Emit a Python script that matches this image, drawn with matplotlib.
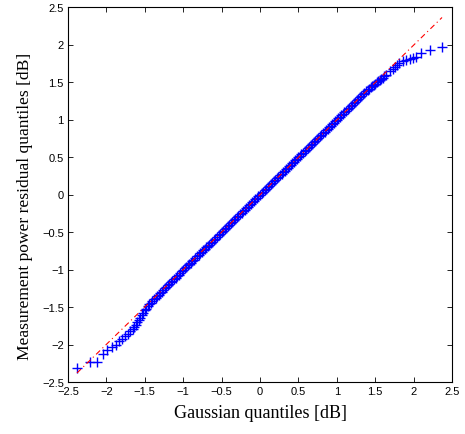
import matplotlib
matplotlib.use('Agg')
import matplotlib.pyplot as plt

gauss_q = [-2.383, -2.219, -2.122, -2.044, -1.992, -1.932, -1.880, -1.836, -1.797, -1.763, -1.724, -1.689, -1.654,
           -1.64, -1.62, -1.60, -1.58, -1.56, -1.54, -1.52, -1.50, -1.48, -1.46, -1.44, -1.42, -1.40,
           -1.38, -1.36, -1.34, -1.32, -1.30, -1.28, -1.26, -1.24, -1.22, -1.20, -1.18, -1.16, -1.14,
           -1.12, -1.10, -1.08, -1.06, -1.04, -1.02, -1.00, -0.98, -0.96, -0.94, -0.92, -0.90, -0.88,
           -0.86, -0.84, -0.82, -0.80, -0.78, -0.76, -0.74, -0.72, -0.70, -0.68, -0.66, -0.64, -0.62,
           -0.60, -0.58, -0.56, -0.54, -0.52, -0.50, -0.48, -0.46, -0.44, -0.42, -0.40, -0.38, -0.36,
           -0.34, -0.32, -0.30, -0.28, -0.26, -0.24, -0.22, -0.20, -0.18, -0.16, -0.14, -0.12, -0.10,
           -0.08, -0.06, -0.04, -0.02, 0.00, 0.02, 0.04, 0.06, 0.08, 0.10, 0.12, 0.14, 0.16,
           0.18, 0.20, 0.22, 0.24, 0.26, 0.28, 0.30, 0.32, 0.34, 0.36, 0.38, 0.40, 0.42,
           0.44, 0.46, 0.48, 0.50, 0.52, 0.54, 0.56, 0.58, 0.60, 0.62, 0.64, 0.66, 0.68,
           0.70, 0.72, 0.74, 0.76, 0.78, 0.80, 0.82, 0.84, 0.86, 0.88, 0.90, 0.92, 0.94,
           0.96, 0.98, 1.00, 1.02, 1.04, 1.06, 1.08, 1.10, 1.12, 1.14, 1.16, 1.18, 1.20,
           1.22, 1.24, 1.26, 1.28, 1.30, 1.32, 1.34, 1.36, 1.38, 1.40, 1.42, 1.44, 1.46,
           1.48, 1.50, 1.52, 1.54, 1.56, 1.58, 1.60, 1.62, 1.64,
           1.695, 1.73, 1.76, 1.78, 1.816, 1.86, 1.905, 1.95, 1.99, 2.035, 2.10, 2.21, 2.37]
meas_q = [-2.31, -2.227, -2.227, -2.133, -2.071, -2.035, -2.0, -1.947, -1.928, -1.893, -1.857, -1.821, -1.79,
          -1.77, -1.74, -1.705, -1.67, -1.64, -1.605, -1.575, -1.545, -1.52, -1.49, -1.465, -1.44, -1.42,
          -1.395, -1.375, -1.355, -1.335, -1.315, -1.295, -1.275, -1.25, -1.23, -1.21, -1.19, -1.17, -1.15,
          -1.13, -1.11, -1.09, -1.07, -1.045, -1.025, -1.005, -0.985, -0.965, -0.945, -0.93, -0.91, -0.89,
          -0.87, -0.85, -0.825, -0.805, -0.785, -0.765, -0.745, -0.725, -0.705, -0.685, -0.67, -0.65, -0.63,
          -0.61, -0.59, -0.565, -0.545, -0.525, -0.505, -0.485, -0.465, -0.445, -0.425, -0.405, -0.385, -0.365,
          -0.345, -0.325, -0.305, -0.285, -0.265, -0.245, -0.225, -0.205, -0.185, -0.165, -0.145, -0.125, -0.105,
          -0.085, -0.065, -0.045, -0.025, -0.005, 0.015, 0.035, 0.055, 0.075, 0.095, 0.115, 0.135, 0.155,
          0.175, 0.195, 0.215, 0.235, 0.255, 0.28, 0.30, 0.32, 0.34, 0.36, 0.38, 0.395, 0.415,
          0.435, 0.455, 0.475, 0.495, 0.515, 0.535, 0.555, 0.575, 0.595, 0.62, 0.64, 0.66, 0.68,
          0.70, 0.72, 0.74, 0.755, 0.775, 0.795, 0.815, 0.835, 0.855, 0.875, 0.895, 0.915, 0.94,
          0.96, 0.98, 1.00, 1.02, 1.04, 1.055, 1.075, 1.095, 1.115, 1.135, 1.155, 1.175, 1.195,
          1.215, 1.235, 1.26, 1.28, 1.30, 1.32, 1.34, 1.355, 1.375, 1.395, 1.41, 1.43, 1.45,
          1.465, 1.48, 1.50, 1.515, 1.53, 1.545, 1.56, 1.575, 1.59,
          1.647, 1.673, 1.70, 1.727, 1.757, 1.78, 1.793, 1.807, 1.82, 1.833, 1.89, 1.93, 1.97]

# reference line (through the quartiles, extended to the data range)
ref_x = [-2.383, 2.37]
ref_y = [-2.38, 2.36]

ticks = [-2.5, -2, -1.5, -1, -0.5, 0, 0.5, 1, 1.5, 2, 2.5]
tick_labels = ['\u22122.5', '\u22122', '\u22121.5', '\u22121', '\u22120.5', '0', '0.5', '1', '1.5', '2', '2.5']

fig = plt.figure(figsize=(4.65, 4.35), dpi=100)
ax = fig.add_axes([68/465, 1-383/435, 384/465, 375/435])

ax.plot(gauss_q, meas_q, '+', color=(0, 0, 1), markersize=7, markeredgewidth=1.0)
ax.plot(ref_x, ref_y, color=(1, 0, 0), lw=0.8, dashes=(5, 3, 1, 3))

ax.set_xlim(-2.5, 2.5)
ax.set_ylim(-2.5, 2.5)
ax.set_xticks(ticks)
ax.set_yticks(ticks)
ax.set_xticklabels(tick_labels, family='Liberation Sans', fontsize=8)
ax.set_yticklabels(tick_labels, family='Liberation Sans', fontsize=8)
ax.tick_params(direction='in', length=3.5, width=0.6, top=True, right=True, pad=3)
for s in ax.spines.values():
    s.set_linewidth(0.8)

ax.set_xlabel('Gaussian quantiles [dB]', family='Liberation Serif', fontsize=13, labelpad=6)
ax.set_ylabel('Measurement power residual quantiles [dB]', family='Liberation Serif', fontsize=12.6)
ax.yaxis.set_label_coords(-0.09, 0.47)

fig.savefig('out.png', dpi=100)
